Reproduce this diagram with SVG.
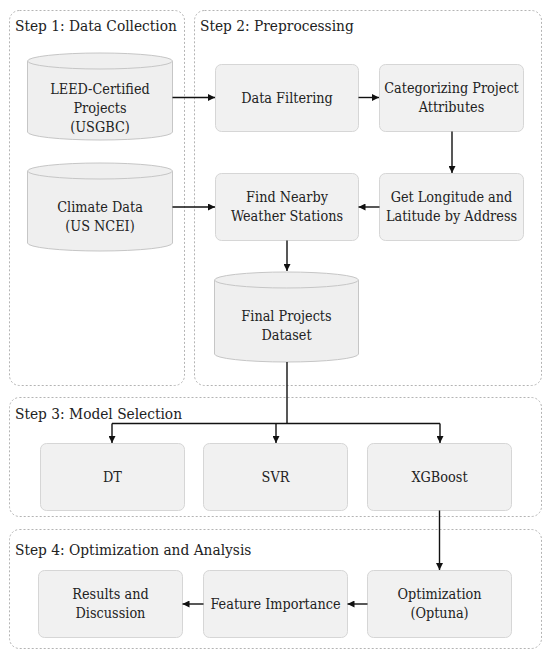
<svg xmlns="http://www.w3.org/2000/svg" width="550" height="659" viewBox="0 0 550 659">
<defs>
<style>
text{font-family:'DejaVu Serif Condensed','DejaVu Serif',serif;font-stretch:condensed;fill:#222}
.grp{fill:none;stroke:#b4b4b4;stroke-width:1;stroke-dasharray:2,2}
.title{font-size:15.3px}
.box{fill:#f1f1f1;stroke:#d6d6d6;stroke-width:1}
.cyl{fill:#efefef;stroke:#c6c6c6;stroke-width:1}
.t{font-size:14.3px;text-anchor:middle}
.edge{fill:none;stroke:#111;stroke-width:1.4}
</style>
<marker id="ah" viewBox="0 0 10 10" refX="10" refY="5" markerWidth="7" markerHeight="7" markerUnits="userSpaceOnUse" orient="auto">
<path d="M0,0 L10,5 L0,10 Z" fill="#111"/>
</marker>
</defs>
<rect width="550" height="659" fill="#fff"/>
<g id="step1">
<rect class="grp" x="9.5" y="10.5" width="175" height="375" rx="10"/>
<text class="title" x="15" y="31">Step 1: Data Collection</text>
</g>
<g id="step2">
<rect class="grp" x="194.5" y="10.5" width="347" height="375" rx="10"/>
<text class="title" x="200" y="31">Step 2: Preprocessing</text>
</g>
<g id="step3">
<rect class="grp" x="9.5" y="397.5" width="532" height="119" rx="10"/>
<text class="title" x="15" y="419">Step 3: Model Selection</text>
</g>
<g id="step4">
<rect class="grp" x="9.5" y="529.5" width="532" height="119" rx="10"/>
<text class="title" x="15" y="555">Step 4: Optimization and Analysis</text>
</g>

<g id="leed">
<path class="cyl" d="M27.5,61 A72.5,8 0 0 1 172.5,61 V132 A72.5,8 0 0 1 27.5,132 Z"/>
<path class="cyl" d="M27.5,61 A72.5,8 0 0 0 172.5,61" fill="none"/>
<text class="t" x="100" y="93.5">LEED-Certified</text>
<text class="t" x="100" y="112.5">Projects</text>
<text class="t" x="100" y="131.5">(USGBC)</text>
</g>
<g id="climate">
<path class="cyl" d="M27.5,171 A72.5,8 0 0 1 172.5,171 V243 A72.5,8 0 0 1 27.5,243 Z"/>
<path class="cyl" d="M27.5,171 A72.5,8 0 0 0 172.5,171" fill="none"/>
<text class="t" x="100" y="211.5">Climate Data</text>
<text class="t" x="100" y="230.5">(US NCEI)</text>
</g>
<g id="filtering">
<rect class="box" x="215.5" y="64.5" width="143" height="67" rx="6"/>
<text class="t" x="287" y="102.5">Data Filtering</text>
</g>
<g id="categorizing">
<rect class="box" x="379.5" y="64.5" width="144" height="67" rx="6"/>
<text class="t" x="451.5" y="93">Categorizing Project</text>
<text class="t" x="451.5" y="112">Attributes</text>
</g>
<g id="nearby">
<rect class="box" x="215.5" y="173.5" width="143" height="67" rx="6"/>
<text class="t" x="287" y="202">Find Nearby</text>
<text class="t" x="287" y="221">Weather Stations</text>
</g>
<g id="geocode">
<rect class="box" x="379.5" y="173.5" width="144" height="67" rx="6"/>
<text class="t" x="451.5" y="202">Get Longitude and</text>
<text class="t" x="451.5" y="221">Latitude by Address</text>
</g>
<g id="final">
<path class="cyl" d="M214.5,280 A72,8 0 0 1 358.5,280 V354 A72,8 0 0 1 214.5,354 Z"/>
<path class="cyl" d="M214.5,280 A72,8 0 0 0 358.5,280" fill="none"/>
<text class="t" x="286.5" y="320.5">Final Projects</text>
<text class="t" x="286.5" y="339.5">Dataset</text>
</g>
<g id="dt">
<rect class="box" x="40.5" y="443.5" width="144" height="67" rx="6"/>
<text class="t" x="112.5" y="482">DT</text>
</g>
<g id="svr">
<rect class="box" x="203.5" y="443.5" width="144" height="67" rx="6"/>
<text class="t" x="275.5" y="482">SVR</text>
</g>
<g id="xgb">
<rect class="box" x="367.5" y="443.5" width="144" height="67" rx="6"/>
<text class="t" x="439.5" y="482">XGBoost</text>
</g>
<g id="results">
<rect class="box" x="38.5" y="570.5" width="144" height="67" rx="6"/>
<text class="t" x="110.5" y="599">Results and</text>
<text class="t" x="110.5" y="618">Discussion</text>
</g>
<g id="importance">
<rect class="box" x="203.5" y="570.5" width="144" height="67" rx="6"/>
<text class="t" x="275.5" y="609">Feature Importance</text>
</g>
<g id="optuna">
<rect class="box" x="367.5" y="570.5" width="144" height="67" rx="6"/>
<text class="t" x="439.5" y="599">Optimization</text>
<text class="t" x="439.5" y="618">(Optuna)</text>
</g>
<g id="connectors">
<path class="edge" d="M172.5,97.5 H215" marker-end="url(#ah)"/>
<path class="edge" d="M358.5,97.5 H379" marker-end="url(#ah)"/>
<path class="edge" d="M452,131.5 V173" marker-end="url(#ah)"/>
<path class="edge" d="M379.5,207 H358.5" marker-end="url(#ah)"/>
<path class="edge" d="M172.5,207 H215" marker-end="url(#ah)"/>
<path class="edge" d="M287,240.5 V271" marker-end="url(#ah)"/>
<path class="edge" d="M287,362 V423.5"/>
<path class="edge" d="M112,423.5 H440"/>
<path class="edge" d="M112,423.5 V443" marker-end="url(#ah)"/>
<path class="edge" d="M276,423.5 V443" marker-end="url(#ah)"/>
<path class="edge" d="M440,423.5 V443" marker-end="url(#ah)"/>
<path class="edge" d="M439.5,510.5 V570" marker-end="url(#ah)"/>
<path class="edge" d="M367.5,604 H347.5" marker-end="url(#ah)"/>
<path class="edge" d="M203.5,604 H182.5" marker-end="url(#ah)"/>
</g>
</svg>
